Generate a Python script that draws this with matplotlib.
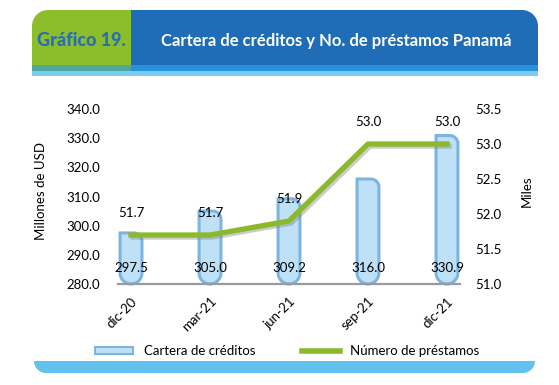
import numpy as np
import matplotlib
matplotlib.use("Agg")
from matplotlib import pyplot as plt
from matplotlib.path import Path
from matplotlib.patches import PathPatch, Patch
from matplotlib.lines import Line2D
import matplotlib.patheffects as pe

# === DATA ===
periodos = ["dic-20", "mar-21", "jun-21", "sep-21", "dic-21"]
cartera = [297.5, 305.0, 309.2, 316.0, 330.9]      # Millones de USD
prestamos = [51.7, 51.7, 51.9, 53.0, 53.0]         # Miles

# === STYLE ===
plt.rcParams['font.family'] = ['Lato', 'DejaVu Sans']
FS = 9.5
BAR_FILL = "#BFE1F7"
BAR_EDGE = "#7DB5E0"
LINE_GREEN = "#8CB92C"
HDR_GREEN = "#8CBD2A"
HDR_BLUE = "#1E6DB6"

W, H = 559, 385


def round_path(x0, x1, y0, y1, radii, sx=1.0, sy=1.0):
    # radii in pixels for corners (x0,y0), (x1,y0), (x1,y1), (x0,y1)
    k = 0.5523
    corners = [(x0, y0), (x1, y0), (x1, y1), (x0, y1)]
    verts, codes = [], []
    for i, (cx, cy) in enumerate(corners):
        r = radii[i]
        prv = corners[i - 1]
        nxt = corners[(i + 1) % 4]
        a = (np.sign(prv[0] - cx) * r * sx, np.sign(prv[1] - cy) * r * sy)
        b = (np.sign(nxt[0] - cx) * r * sx, np.sign(nxt[1] - cy) * r * sy)
        verts.append((cx + a[0], cy + a[1]))
        codes.append(Path.MOVETO if i == 0 else Path.LINETO)
        verts += [(cx + a[0] * (1 - k), cy + a[1] * (1 - k)),
                  (cx + b[0] * (1 - k), cy + b[1] * (1 - k)),
                  (cx + b[0], cy + b[1])]
        codes += [Path.CURVE4] * 3
    verts.append(verts[0])
    codes.append(Path.CLOSEPOLY)
    return Path(verts, codes)


fig = plt.figure(figsize=(W / 100, H / 100), dpi=100)

# === Decorations (header / footer), pixel coordinates ===
bg = fig.add_axes([0, 0, 1, 1], zorder=-1)
bg.set_xlim(0, W)
bg.set_ylim(H, 0)
bg.axis('off')

bg.add_patch(PathPatch(round_path(32, 131, 10, 76, [16, 0, 0, 0]), fc=HDR_GREEN, ec='none'))
bg.add_patch(PathPatch(round_path(131, 538, 10, 76, [0, 16, 0, 0]), fc=HDR_BLUE, ec='none'))
bg.add_patch(PathPatch(round_path(32, 131, 65, 71, [0, 0, 0, 0]), fc="#4FA99A", ec='none'))
bg.add_patch(PathPatch(round_path(131, 538, 65, 71, [0, 0, 0, 0]), fc="#2A92DC", ec='none'))
bg.add_patch(PathPatch(round_path(32, 538, 71, 76, [0, 0, 0, 0]), fc="#78CBF1", ec='none'))
bg.add_patch(PathPatch(round_path(34, 535, 361, 373, [0, 0, 12, 12]), fc="#63C1EE", ec='none'))

bg.text(81, 40, "Gráfico 19.", color="#2A6DB0", fontsize=13, fontweight='black',
        ha='center', va='center')
bg.text(336, 41, "Cartera de créditos y No. de préstamos Panamá", color='white',
        fontsize=12, fontweight='bold', ha='center', va='center')

# === Main chart ===
left, right, top, bottom = 118, 460, 109, 284
ax = fig.add_axes([left / W, 1 - bottom / H, (right - left) / W, (bottom - top) / H])
x = np.arange(len(periodos))
ax.set_xlim(-0.165, len(periodos) - 1 + 0.165)
ax.set_ylim(280, 340)
ax.set_yticks(np.arange(280, 341, 10))
ax.set_yticklabels([f"{v:.1f}" for v in np.arange(280, 341, 10)], fontsize=FS)
ax.set_xticks(x)
ax.set_xticklabels(periodos, rotation=45, ha='right', va='top',
                   rotation_mode='anchor', fontsize=FS)
ax.tick_params(axis='both', length=0)
ax.tick_params(axis='y', pad=13)
ax.tick_params(axis='x', pad=8)
for s in ['top', 'left', 'right']:
    ax.spines[s].set_visible(False)
ax.spines['bottom'].set_color('#9a9a9a')
ax.spines['bottom'].set_linewidth(1.6)
ax.spines['bottom'].set_zorder(5)
ax.set_ylabel("Millones de USD", fontsize=FS)
ax.yaxis.set_label_coords(-0.208, 0.53)

sx = (ax.get_xlim()[1] - ax.get_xlim()[0]) / (right - left)
sy = 60 / (bottom - top)
bw = 0.277
for xi, v in zip(x, cartera):
    p = round_path(xi - bw / 2, xi + bw / 2, 280, v, [11, 11, 8, 0], sx, sy)
    ax.add_patch(PathPatch(p, fc=BAR_FILL, ec=BAR_EDGE, lw=2.2, clip_on=False, zorder=2))
    ax.text(xi, 285.5, f"{v:.1f}", ha='center', va='center', fontsize=FS, zorder=6)

ax2 = ax.twinx()
ax2.set_ylim(51.0, 53.5)
yt2 = np.arange(51.0, 53.51, 0.5)
ax2.set_yticks(yt2)
ax2.set_yticklabels([f"{v:.1f}" for v in yt2], fontsize=FS)
ax2.tick_params(axis='y', length=0, pad=11)
for s in ['top', 'left', 'right', 'bottom']:
    ax2.spines[s].set_visible(False)
ax2.set_ylabel("Miles", fontsize=FS)
ax2.yaxis.set_label_coords(1.178, 0.53)

ax2.plot(x, prestamos, color=LINE_GREEN, lw=3.8, solid_joinstyle='miter',
         path_effects=[pe.SimpleLineShadow(offset=(1.5, -1.5), shadow_color='gray', alpha=0.4),
                       pe.Normal()])
for xi, v in zip(x, prestamos):
    ax2.annotate(f"{v:.1f}", (xi, v), xytext=(0, 16), textcoords='offset points',
                 ha='center', va='center', fontsize=FS)

# === Legend ===
handles = [Patch(facecolor=BAR_FILL, edgecolor=BAR_EDGE, lw=1.5),
           Line2D([0], [0], color=LINE_GREEN, lw=4)]
fig.legend(handles, ["Cartera de créditos", "Número de préstamos"], ncol=2,
           loc='center', bbox_to_anchor=(0.514, 1 - 351 / H), frameon=False,
           fontsize=FS, handlelength=2.9, handleheight=0.5, columnspacing=3.5,
           handletextpad=0.8)

fig.savefig("out.png", dpi=100)
